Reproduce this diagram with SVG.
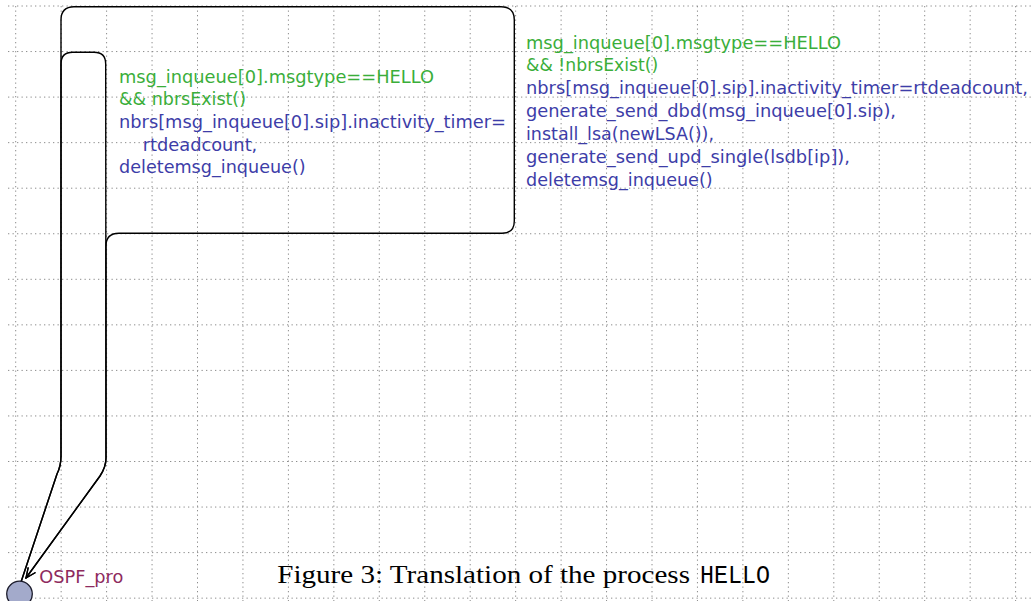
<svg xmlns="http://www.w3.org/2000/svg" width="1034" height="601" viewBox="0 0 1034 601">
  <style>
    .grid line { stroke: #8c8c8c; stroke-width: 1; stroke-dasharray: 1.3 3.2; }
    .edge { fill: none; stroke: #000; stroke-width: 1.4; stroke-linejoin: round; }
    .lbl { font-family: "DejaVu Sans", "Liberation Sans", sans-serif; font-size: 17px; }
    .guard { fill: #3aae3a; }
    .action { fill: #3d3da8; }
    .state-name { font-family: "DejaVu Sans", "Liberation Sans", sans-serif; font-size: 17px; fill: #8e2a5e; }
    .caption { font-family: "Liberation Serif", "Times New Roman", serif; font-size: 26px; fill: #000; }
    .tt { font-family: "Liberation Mono", "DejaVu Sans Mono", monospace; }
  </style>
  <defs>
    <marker id="arrow" viewBox="0 0 12 12" refX="11" refY="6" markerWidth="12" markerHeight="12" markerUnits="userSpaceOnUse" orient="auto">
      <path d="M1,1.5 L11,6 L1,10.5" fill="none" stroke="#000" stroke-width="1.3"/>
    </marker>
  </defs>

  <rect width="1034" height="601" fill="#fff"/>

  <!-- background grid -->
  <g class="grid">
    <line x1="8" y1="6" x2="1034" y2="6"/>
    <line x1="8" y1="51.55" x2="1034" y2="51.55"/>
    <line x1="8" y1="97.1" x2="1034" y2="97.1"/>
    <line x1="8" y1="142.65" x2="1034" y2="142.65"/>
    <line x1="8" y1="188.2" x2="1034" y2="188.2"/>
    <line x1="8" y1="233.75" x2="1034" y2="233.75"/>
    <line x1="8" y1="279.3" x2="1034" y2="279.3"/>
    <line x1="8" y1="324.85" x2="1034" y2="324.85"/>
    <line x1="8" y1="370.4" x2="1034" y2="370.4"/>
    <line x1="8" y1="415.95" x2="1034" y2="415.95"/>
    <line x1="8" y1="461.5" x2="1034" y2="461.5"/>
    <line x1="8" y1="507.05" x2="1034" y2="507.05"/>
    <line x1="8" y1="552.6" x2="1034" y2="552.6"/>
    <line x1="8" y1="598.15" x2="1034" y2="598.15"/>
    <line x1="15.7" y1="6" x2="15.7" y2="601"/>
    <line x1="61.15" y1="6" x2="61.15" y2="601"/>
    <line x1="106.6" y1="6" x2="106.6" y2="601"/>
    <line x1="152.05" y1="6" x2="152.05" y2="601"/>
    <line x1="197.5" y1="6" x2="197.5" y2="601"/>
    <line x1="242.95" y1="6" x2="242.95" y2="601"/>
    <line x1="288.4" y1="6" x2="288.4" y2="601"/>
    <line x1="333.85" y1="6" x2="333.85" y2="601"/>
    <line x1="379.3" y1="6" x2="379.3" y2="601"/>
    <line x1="424.75" y1="6" x2="424.75" y2="601"/>
    <line x1="470.2" y1="6" x2="470.2" y2="601"/>
    <line x1="515.65" y1="6" x2="515.65" y2="601"/>
    <line x1="561.1" y1="6" x2="561.1" y2="601"/>
    <line x1="606.55" y1="6" x2="606.55" y2="601"/>
    <line x1="652" y1="6" x2="652" y2="601"/>
    <line x1="697.45" y1="6" x2="697.45" y2="601"/>
    <line x1="742.9" y1="6" x2="742.9" y2="601"/>
    <line x1="788.35" y1="6" x2="788.35" y2="601"/>
    <line x1="833.8" y1="6" x2="833.8" y2="601"/>
    <line x1="879.25" y1="6" x2="879.25" y2="601"/>
    <line x1="924.7" y1="6" x2="924.7" y2="601"/>
    <line x1="970.15" y1="6" x2="970.15" y2="601"/>
    <line x1="1015.6" y1="6" x2="1015.6" y2="601"/>
  </g>

  <!-- transitions (self-loops on OSPF_pro) -->
  <g id="connectors">
    <path class="edge" marker-end="url(#arrow)"
          d="M20.7,583 L57,474 Q61,466 61,456 L61,20 Q61,6.7 74,6.7 L501,6.7 Q514.3,6.7 514.3,20 L514.3,221 Q514.3,233.3 502,233.3 L119,233.3 Q106,233.3 106,246 L106,458 Q106,467 100,476 L26,578"/>
    <path class="edge" marker-end="url(#arrow)"
          d="M20.7,583 L57,474 Q61,466 61,456 L61,64 Q61,52.3 72.7,52.3 L94,52.3 Q105.7,52.3 105.7,64 L106,458 Q106,467 100,476 L26,578"/>
  </g>

  <!-- label of the inner loop -->
  <g id="label-nbrs-exist" class="lbl">
    <text class="guard" x="119" y="82.7" textLength="315" lengthAdjust="spacingAndGlyphs">msg_inqueue[0].msgtype==HELLO</text>
    <text class="guard" x="119" y="105.3" textLength="127" lengthAdjust="spacingAndGlyphs">&amp;&amp; nbrsExist()</text>
    <text class="action" x="119" y="127.9" textLength="387" lengthAdjust="spacingAndGlyphs">nbrs[msg_inqueue[0].sip].inactivity_timer=</text>
    <text class="action" x="142.7" y="150.5" textLength="114.6" lengthAdjust="spacingAndGlyphs">rtdeadcount,</text>
    <text class="action" x="119" y="173.1" textLength="186.7" lengthAdjust="spacingAndGlyphs">deletemsg_inqueue()</text>
  </g>

  <!-- label of the outer loop -->
  <g id="label-no-nbrs" class="lbl">
    <text class="guard" x="526" y="48.5" textLength="315" lengthAdjust="spacingAndGlyphs">msg_inqueue[0].msgtype==HELLO</text>
    <text class="guard" x="526" y="71.4" textLength="132.3" lengthAdjust="spacingAndGlyphs">&amp;&amp; !nbrsExist()</text>
    <text class="action" x="526" y="94.2" textLength="502" lengthAdjust="spacingAndGlyphs">nbrs[msg_inqueue[0].sip].inactivity_timer=rtdeadcount,</text>
    <text class="action" x="526" y="117.1" textLength="370" lengthAdjust="spacingAndGlyphs">generate_send_dbd(msg_inqueue[0].sip),</text>
    <text class="action" x="526" y="139.9" textLength="188" lengthAdjust="spacingAndGlyphs">install_lsa(newLSA()),</text>
    <text class="action" x="526" y="162.8" textLength="324" lengthAdjust="spacingAndGlyphs">generate_send_upd_single(lsdb[ip]),</text>
    <text class="action" x="526" y="185.6" textLength="186.7" lengthAdjust="spacingAndGlyphs">deletemsg_inqueue()</text>
  </g>

  <!-- state OSPF_pro -->
  <g id="state-ospf-pro">
    <circle cx="19.5" cy="594" r="12.8" fill="#a3aacb" stroke="#1a1a2a" stroke-width="1.3"/>
    <text class="state-name" x="39.3" y="583" textLength="84" lengthAdjust="spacingAndGlyphs">OSPF_pro</text>
  </g>

  <!-- caption -->
  <g id="caption">
    <text class="caption" x="277.3" y="583.3" textLength="412.7" lengthAdjust="spacingAndGlyphs">Figure 3: Translation of the process</text>
    <text class="caption tt" x="700" y="583.3" textLength="70" lengthAdjust="spacingAndGlyphs">HELLO</text>
  </g>
</svg>
